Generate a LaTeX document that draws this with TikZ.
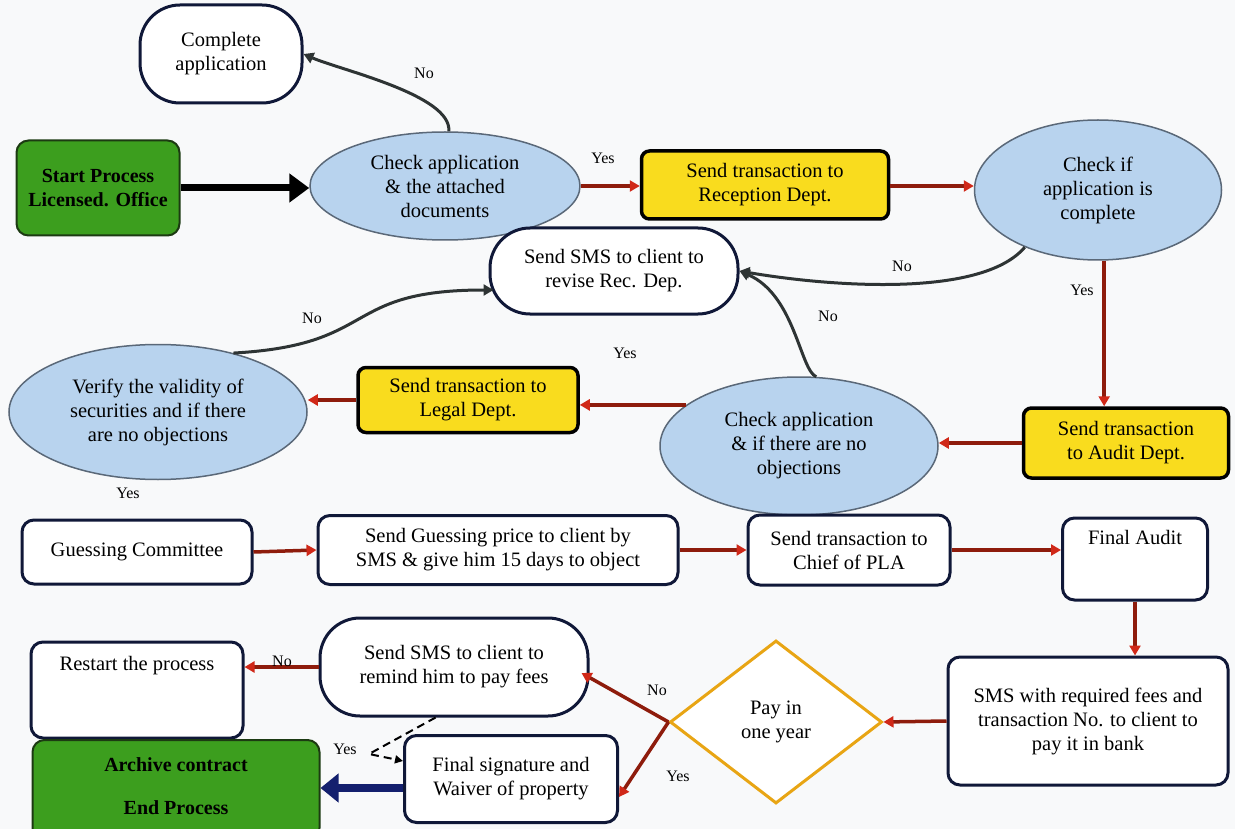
\documentclass[tikz,border=0pt]{standalone}
\usepackage{fontspec}
\setmainfont{Liberation Serif}
\usetikzlibrary{shapes.geometric,arrows.meta,calc}
\definecolor{bgc}{HTML}{F8F9FA}
\definecolor{navy}{HTML}{101838}
\definecolor{gfill}{HTML}{3C9E1E}
\definecolor{gdraw}{HTML}{1C3A12}
\definecolor{yfill}{HTML}{F9DC1E}
\definecolor{efill}{HTML}{B8D3EE}
\definecolor{edraw}{HTML}{5A6878}
\definecolor{rline}{HTML}{8E1C0C}
\definecolor{rhead}{HTML}{D02818}
\definecolor{dline}{HTML}{2E3434}
\definecolor{orng}{HTML}{E8A514}
\definecolor{bline}{HTML}{14206E}
\tikzset{
  x=1pt,y=-1pt,
  every node/.style={font=\fontsize{20.5}{24}\selectfont, align=center, inner sep=0pt},
  wbox/.style={draw=navy, line width=3pt, fill=white, rounded corners=12pt},
  pill/.style={draw=navy, line width=3pt, fill=white, rounded corners=40pt},
  gbox/.style={draw=gdraw, line width=2pt, fill=gfill, rounded corners=12pt, font=\fontsize{20}{24}\selectfont\bfseries},
  ybox/.style={draw=black, line width=3.5pt, fill=yfill, rounded corners=8pt},
  ell/.style={ellipse, draw=edraw, line width=1.5pt, fill=efill},
  rarrow/.style={draw=rline, line width=3.5pt, -{Triangle[length=10pt,width=11pt,fill=rhead,color=rhead]}},
  darrow/.style={draw=dline, line width=3pt, -{Triangle[length=10pt,width=11pt]}},
  lbl/.style={font=\fontsize{16}{18}\selectfont},
}
\begin{document}
\begin{tikzpicture}
\fill[bgc] (0,0) rectangle (1235,829);
\useasboundingbox (0,0) rectangle (1235,829);

% nodes
\node[pill, minimum width=162, minimum height=98] (comp) at (221,54) {Complete\\application};
\node[gbox, minimum width=163, minimum height=95] (start) at (98,188) {Start Process\\Licensed. Office};
\node[ell, minimum width=270, minimum height=108] (ca) at (445,186) {Check application\\\& the attached\\documents};
\node[ybox, minimum width=247, minimum height=68] (rec) at (765,185) {Send transaction to\\Reception Dept.};
\node[ell, minimum width=247, minimum height=140] (cic) at (1098,190) {Check if\\application is\\complete};
\node[pill, minimum width=248, minimum height=86] (sms1) at (614,271) {Send SMS to client to\\revise Rec. Dep.};
\node[ybox, minimum width=205, minimum height=70] (audit) at (1126,443) {Send transaction\\to Audit Dept.};
\node[ell, minimum width=278, minimum height=138] (cano) at (799,446) {Check application\\\& if there are no\\objections};
\node[ybox, minimum width=220, minimum height=65] (legal) at (468,400) {Send transaction to\\Legal Dept.};
\node[ell, minimum width=298, minimum height=135] (ver) at (158,412) {Verify the validity of\\securities and if there\\are no objections};

\node[wbox, minimum width=230, minimum height=64] (guess) at (137,552) {Guessing Committee};
\node[wbox, minimum width=360, minimum height=69] (price) at (498,550) {Send Guessing price to client by\\SMS \& give him 15 days to object};
\node[wbox, minimum width=202, minimum height=70] (chief) at (849,550) {Send transaction to\\Chief of PLA};
\node[wbox, minimum width=145, minimum height=82] (final) at (1135,559) {};
\node (finalt) at (1135,537) {Final Audit};
\node[wbox, minimum width=280, minimum height=128] (fees) at (1088,721) {SMS with required fees and\\transaction No. to client to\\pay it in bank};
\node[diamond, draw=orng, line width=3pt, fill=white, minimum width=212, minimum height=163] (pay) at (776,722) {Pay in\\one year};
\node[pill, minimum width=268, minimum height=98] (remind) at (454,667) {Send SMS to client to\\remind him to pay fees};
\node[wbox, minimum width=212, minimum height=96] (restart) at (137,690) {};
\node (restartt) at (137,666) {Restart the process};
\node[wbox, minimum width=213, minimum height=87] (sign) at (511,779) {Final signature and\\Waiver of property};
\node[gbox, minimum width=287, minimum height=100] (archive) at (176,790) {};
\node[font=\fontsize{20}{43}\selectfont\bfseries] (archivet) at (176,786) {Archive contract\\End Process};

% connectors
\draw[line width=7pt, -{Triangle[length=20pt,width=28pt]}] (start.east) -- (ca.west |- start.east);
\draw[darrow] (ca.86) .. controls (452,95) and (340,70) .. (comp.east);
\node[lbl] (no1) at (424,73) {No};

\draw[rarrow] (ca.east) -- (rec.west |- ca.east);
\node[lbl] (yes1) at (603,158) {Yes};
\draw[rarrow] (rec.east |- ca.east) -- (cic.west |- ca.east);

\draw[rarrow] (cic.275) -- (cic.275 |- audit.north);
\node[lbl] (yes2) at (1082,290) {Yes};

\draw[darrow] (cic.218) .. controls (980,300) and (820,285) .. (sms1.east);
\node[lbl] (no2) at (902,266) {No};
\draw[darrow] (cano.76) .. controls (800,370) and (795,295) .. (sms1.east);
\node[lbl] (no3) at (828,316) {No};

\draw[rarrow] (audit.west) -- (cano.east |- audit.west);
\draw[rarrow] (cano.160) -- (legal.east |- cano.160);
\node[lbl] (yes3) at (625,353) {Yes};
\draw[rarrow] (legal.west) -- (ver.east |- legal.west);

\coordinate (smsin) at ($(sms1.west)+(5,19)$);
\draw[darrow] (ver.38) .. controls (380,345) and (340,290) .. (smsin);
\node[lbl] (no4) at (312,318) {No};
\node[lbl] (yes4) at (128,493) {Yes};

\draw[rarrow] (guess.east) -- (price.west);
\draw[rarrow] (price.east) -- (chief.west);
\draw[rarrow] (chief.east) -- (final.west |- chief.east);
\draw[rarrow] (final.south) -- (final.south |- fees.north);
\draw[rarrow] (fees.west) -- (pay.east);

\draw[rarrow] (pay.west) -- ($(remind.east)+(-8,6)$);
\node[lbl] (no5) at (657,690) {No};
\draw[rarrow] (pay.west) -- ($(sign.east)+(0,18)$);
\node[lbl] (yes5) at (678,776) {Yes};

\draw[rarrow] (remind.west) -- (restart.east |- remind.west);
\node[lbl] (no6) at (282,661) {No};

\coordinate (dk) at (369,754);
\draw[line width=2pt, dash pattern=on 8pt off 5pt, -{Triangle[length=8pt,width=8pt]}] (remind.250) -- (dk) -- (sign.west |- 0,761);
\node[lbl] (yes6) at (345,749) {Yes};

\draw[draw=bline, line width=8pt, -{Triangle[length=18pt,width=28pt]}] (sign.west |- 0,788) -- (archive.east |- 0,788);
\end{tikzpicture}
\end{document}
